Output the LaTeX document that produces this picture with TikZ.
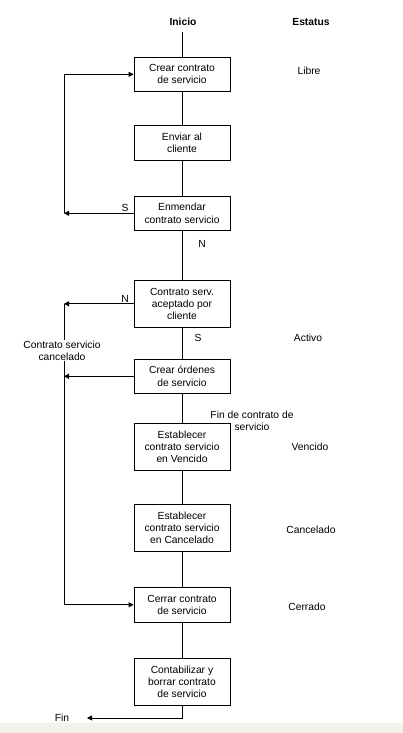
\documentclass[tikz,border=0pt]{standalone}
\usepackage{fontspec}
\setmainfont{Liberation Sans}
\usetikzlibrary{arrows.meta}
\begin{document}
\begin{tikzpicture}[x=1pt,y=-1pt,
  font=\fontsize{10.3}{12.2}\selectfont,
  stepbox/.style={draw=black,line width=0.8pt,fill=white,minimum width=96pt,align=center,inner sep=1pt},
  conn/.style={draw=black,line width=0.8pt},
  tip/.style={conn,-{Triangle[length=5pt,width=5pt]}},
  lbl/.style={inner sep=0pt,align=center}]
\useasboundingbox (0,0) rectangle (403,733);
\fill[fill={rgb,255:red,244;green,242;blue,236}] (0,723) rectangle (403,733);
% headers
\node[lbl,font=\fontsize{10.3}{12.2}\selectfont\bfseries] (inicio) at (183,22) {Inicio};
\node[lbl,font=\fontsize{10.3}{12.2}\selectfont\bfseries] (estatus) at (311,22) {Estatus};
\coordinate (start) at (182,32);
% boxes
\node[stepbox,minimum height=34pt] (b1) at (182,74.3) {Crear contrato\\de servicio};
\node[stepbox,minimum height=35pt] (b2) at (182,142.8) {Enviar al\\cliente};
\node[stepbox,minimum height=34pt] (b3) at (182,213.3) {Enmendar\\contrato servicio};
\node[stepbox,minimum height=47pt] (b4) at (182,303.8) {Contrato serv.\\aceptado por\\cliente};
\node[stepbox,minimum height=34pt] (b5) at (182,376.3) {Crear órdenes\\de servicio};
\node[stepbox,minimum height=47pt] (b6) at (182,446.8) {Establecer\\contrato servicio\\en Vencido};
\node[stepbox,minimum height=47pt] (b7) at (182,527.8) {Establecer\\contrato servicio\\en Cancelado};
\node[stepbox,minimum height=35pt] (b8) at (182,604.8) {Cerrar contrato\\de servicio};
\node[stepbox,minimum height=47pt] (b9) at (182,681.7) {Contabilizar y\\borrar contrato\\de servicio};
% status labels
\node[lbl] (libre) at (309,71) {Libre};
\node[lbl] (activo) at (308,338) {Activo};
\node[lbl] (vencido) at (310,447) {Vencido};
\node[lbl] (cancelado) at (311,530) {Cancelado};
\node[lbl] (cerrado) at (307,607) {Cerrado};
% branch labels
\node[lbl] (s1) at (125,208) {S};
\node[lbl] (n1) at (202,244) {N};
\node[lbl] (n2) at (125,299) {N};
\node[lbl] (s2) at (198,338) {S};
\node[lbl] (fincontrato) at (252,421) {Fin de contrato de\\servicio};
\node[lbl] (cancel) at (62,350.5) {Contrato servicio\\cancelado};
\node[lbl] (fin) at (62,718) {Fin};
% main flow
\draw[conn] (start) -- (b1.north);
\draw[conn] (b1) -- (b2);
\draw[conn] (b2) -- (b3);
\draw[conn] (b3) -- (b4);
\draw[conn] (b4) -- (b5);
\draw[conn] (b5) -- (b6);
\draw[conn] (b6) -- (b7);
\draw[conn] (b7) -- (b8);
\draw[conn] (b8) -- (b9);
% loop back
\coordinate (l1) at (64,213.3);
\draw[tip] (b3.west) -- (l1);
\draw[tip] (l1) |- (b1.west);
% cancel branch
\coordinate (l2) at (64,303.8);
\coordinate (l3) at (64,376.3);
\draw[tip] (b4.west) -- (l2);
\draw[conn] (l2) -- (cancel.north -| l2);
\draw[tip] (b5.west) -- (l3);
\draw[tip] (cancel.south -| l2) |- (b8.west);
% end
\coordinate (e1) at (182,718);
\coordinate (e2) at (87,718);
\draw[tip] (b9.south) -- (e1) -- (e2);
\end{tikzpicture}
\end{document}
